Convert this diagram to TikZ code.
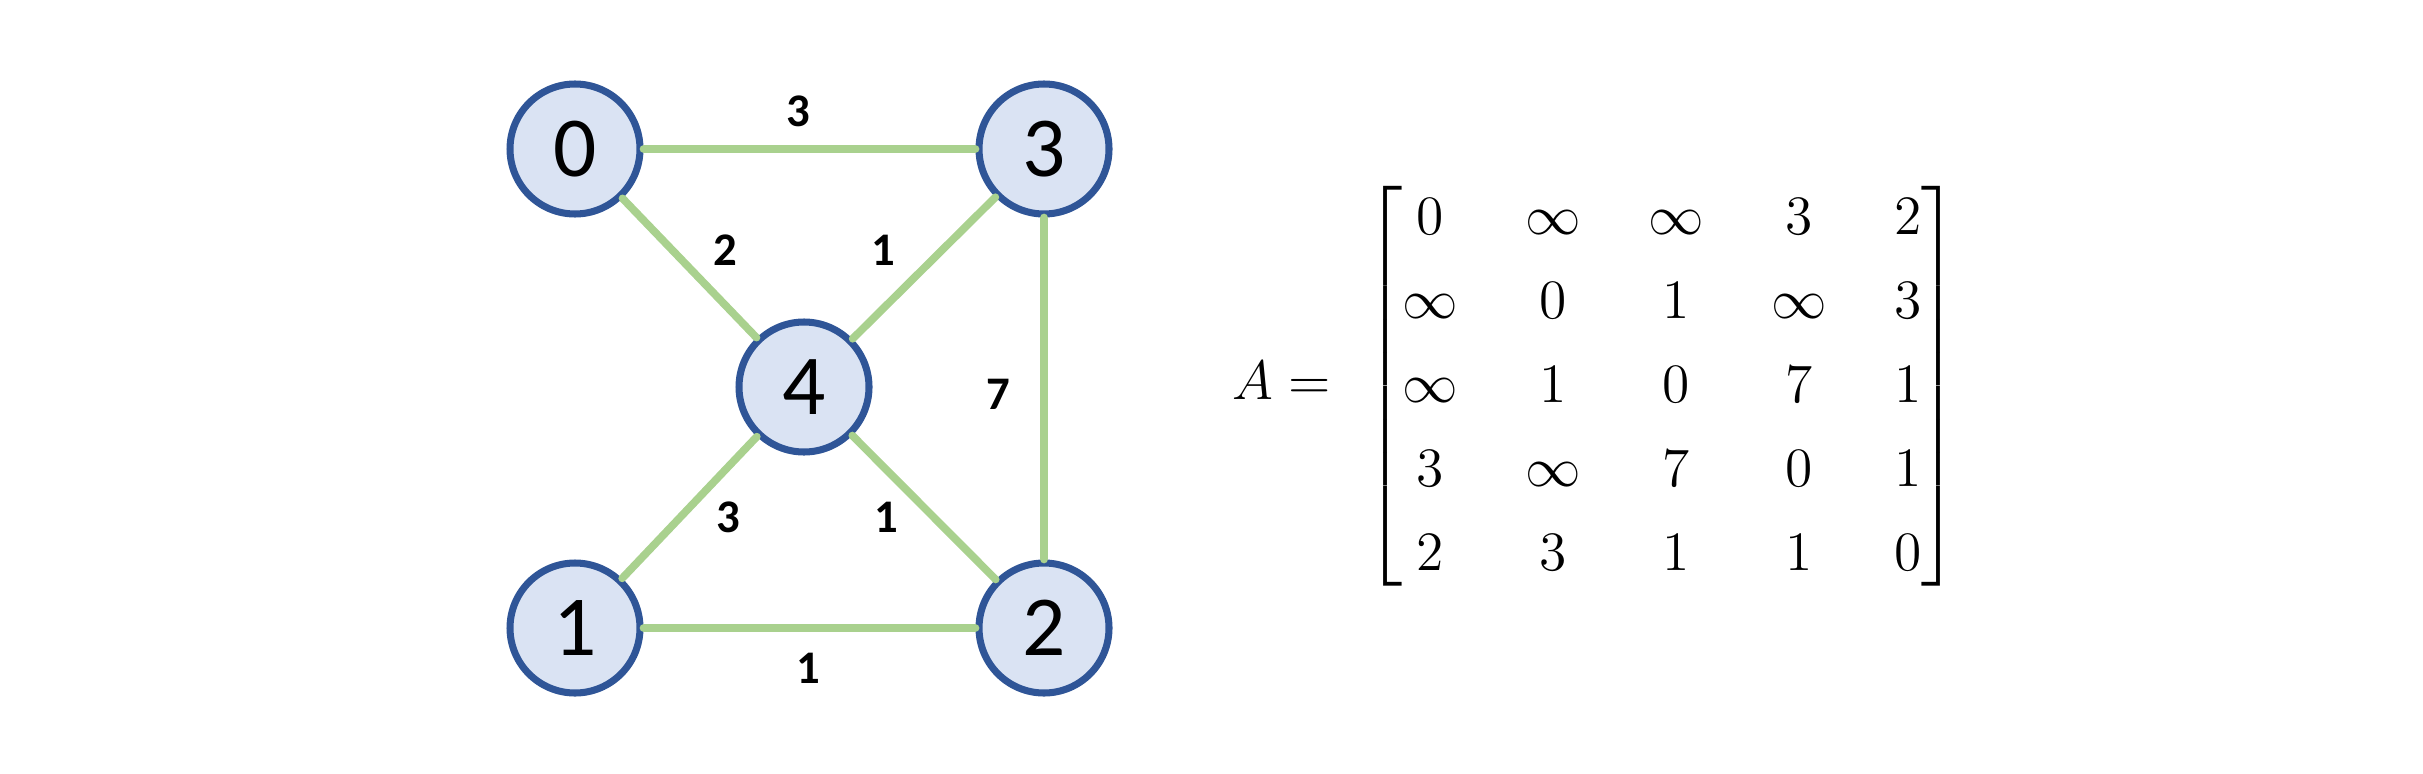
\RequirePackage{fix-cm}
\documentclass[tikz,border=0pt]{standalone}
\usepackage{amsmath,amssymb}
\usepackage{fontspec}
\usepackage{tikz}
\usetikzlibrary{calc,positioning}
\usepackage{xcolor}
\newfontfamily\vertexfamily{Carlito}
\definecolor{vertexline}{HTML}{2F5597}
\definecolor{vertexfill}{HTML}{DAE3F3}
\definecolor{edgegreen}{HTML}{A9D18E}
\newcommand{\vertexfont}{\vertexfamily\fontsize{24.3}{28}\selectfont}
\newcommand{\weightfont}{\vertexfamily\bfseries\fontsize{13.3}{16}\selectfont}
\tikzset{
  vertex/.style={circle,draw=vertexline,fill=vertexfill,line width=2pt,
    minimum size=1.30cm,inner sep=0pt,font=\vertexfont},
  graph edge/.style={draw=edgegreen,line width=2.2pt},
  weight label/.style={font=\weightfont,inner sep=1pt},
  matrix label/.style={inner sep=0pt,anchor=west}
}

\begin{document}
\begin{tikzpicture}[line cap=round,line join=round]
  \useasboundingbox (0,0) rectangle (24.23,7.73);

  \node[vertex] (n0) at ( 5.75,6.24) {0};
  \node[vertex] (n3) at (10.44,6.24) {3};
  \node[vertex] (n4) at ( 8.04,3.86) {4};
  \node[vertex] (n1) at ( 5.75,1.45) {1};
  \node[vertex] (n2) at (10.44,1.45) {2};

  \draw[graph edge] (n0)--(n3) (n0)--(n4) (n4)--(n3)
        (n3)--(n2) (n1)--(n4) (n4)--(n2) (n1)--(n2);

  \node[weight label] (w03) at (7.98,6.62) {3};
  \node[weight label] (w04) at (7.25,5.23) {2};
  \node[weight label] (w43) at (8.83,5.23) {1};
  \node[weight label] (w32) at (9.98,3.79) {7};
  \node[weight label] (w14) at (7.28,2.56) {3};
  \node[weight label] (w42) at (8.86,2.56) {1};
  \node[weight label] (w12) at (8.08,1.05) {1};

  % adjacency matrix
  \node[matrix label] (adj) at (12.32,3.87) {\fontsize{15.8}{18.96}\selectfont
    \renewcommand{\arraystretch}{1.26}\setlength{\arraycolsep}{9.6pt}%
    \delimiterfactor=900 \delimitershortfall=25pt
    $\displaystyle A=\mkern6mu\begin{bmatrix}
      0 & \infty & \infty & 3 & 2\\
      \infty & 0 & 1 & \infty & 3\\
      \infty & 1 & 0 & 7 & 1\\
      3 & \infty & 7 & 0 & 1\\
      2 & 3 & 1 & 1 & 0
    \end{bmatrix}$};
\end{tikzpicture}
\end{document}
